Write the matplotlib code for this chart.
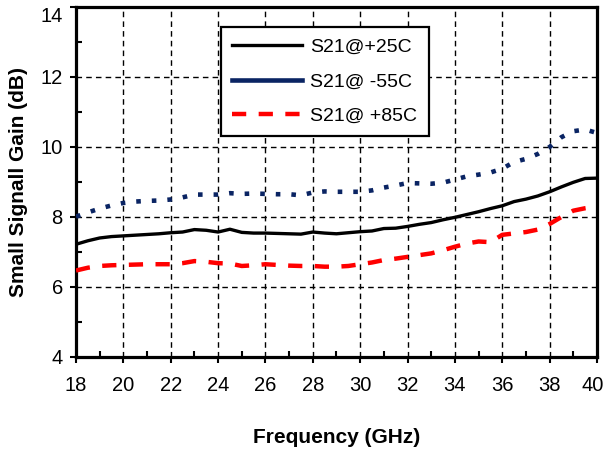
import matplotlib
matplotlib.use("Agg")
import matplotlib.pyplot as plt
import matplotlib.transforms as mtransforms
from matplotlib.ticker import MultipleLocator

plt.rcParams["font.family"] = ["Liberation Sans", "DejaVu Sans"]

# Frequency sweep (GHz)
freq = [18.0, 18.5, 19.0, 19.5, 20.0, 20.5, 21.0, 21.5, 22.0, 22.5,
        23.0, 23.5, 24.0, 24.5, 25.0, 25.5, 26.0, 26.5, 27.0, 27.5,
        28.0, 28.5, 29.0, 29.5, 30.0, 30.5, 31.0, 31.5, 32.0, 32.5,
        33.0, 33.5, 34.0, 34.5, 35.0, 35.5, 36.0, 36.5, 37.0, 37.5,
        38.0, 38.5, 39.0, 39.5, 40.0]

# Small signal gain S21 (dB) at three temperatures
s21_p25 = [7.22, 7.32, 7.40, 7.44, 7.46, 7.48, 7.50, 7.52, 7.55, 7.57,
           7.64, 7.62, 7.57, 7.65, 7.56, 7.54, 7.54, 7.53, 7.52, 7.51,
           7.57, 7.54, 7.52, 7.55, 7.58, 7.60, 7.67, 7.68, 7.73, 7.79,
           7.84, 7.92, 7.99, 8.07, 8.15, 8.24, 8.32, 8.44, 8.51, 8.60,
           8.72, 8.86, 8.99, 9.10, 9.11]

s21_m55 = [8.01, 8.13, 8.24, 8.33, 8.40, 8.44, 8.46, 8.47, 8.50, 8.56,
           8.64, 8.64, 8.64, 8.68, 8.66, 8.67, 8.66, 8.65, 8.65, 8.62,
           8.70, 8.73, 8.72, 8.72, 8.72, 8.76, 8.84, 8.90, 8.97, 8.96,
           8.95, 8.98, 9.07, 9.16, 9.21, 9.27, 9.38, 9.57, 9.66, 9.80,
           10.00, 10.28, 10.45, 10.50, 10.40]

s21_p85 = [6.47, 6.55, 6.60, 6.62, 6.63, 6.64, 6.65, 6.65, 6.65, 6.68,
           6.74, 6.72, 6.68, 6.67, 6.60, 6.62, 6.65, 6.63, 6.61, 6.60,
           6.60, 6.58, 6.58, 6.60, 6.65, 6.70, 6.77, 6.81, 6.86, 6.91,
           6.96, 7.05, 7.15, 7.24, 7.30, 7.28, 7.49, 7.53, 7.57, 7.64,
           7.80, 8.00, 8.18, 8.25, 8.30]

labels = ["S21@+25C", "S21@ -55C", "S21@ +85C"]

fig = plt.figure(figsize=(6.06, 4.5), dpi=100)
ax = fig.add_axes([0.1254, 0.2067, 0.8597, 0.7778])

ax.plot(freq, s21_p25, color="black", lw=2.4, label=labels[0], zorder=3)
ax.plot(freq, s21_m55, color="#0A2463", lw=3.3, linestyle=(0, (1, 2.4)),
        dash_capstyle="butt", label=labels[1], zorder=3)
ax.plot(freq, s21_p85, color="#FF0000", lw=3.2, linestyle=(0, (3.2, 2.8)),
        dash_capstyle="butt", label=labels[2], zorder=3)

ax.set_xlim(18, 40)
ax.set_ylim(4, 14)
ax.xaxis.set_major_locator(MultipleLocator(2))
ax.xaxis.set_minor_locator(MultipleLocator(1))
ax.yaxis.set_major_locator(MultipleLocator(2))
ax.yaxis.set_minor_locator(MultipleLocator(1))

ax.grid(True, which="major", color="black", lw=1.0, linestyle=(0, (4, 3)))
ax.set_axisbelow(True)

for side in ax.spines.values():
    side.set_linewidth(2.3)

ax.tick_params(which="major", direction="out", length=4.5, width=1.5,
               labelsize=14.5, color="black")
ax.tick_params(axis="x", which="major", pad=9)
ax.tick_params(axis="y", which="major", pad=5)
ax.tick_params(which="minor", direction="in", length=4, width=1.5)

ax.set_xlabel("Frequency (GHz)", fontsize=15, fontweight="bold", labelpad=24)
ax.set_ylabel("Small Signall Gain (dB)", fontsize=15, fontweight="bold",
              labelpad=9)

# edge labels: keep the top one under the frame, the last one inside the canvas
fig.canvas.draw()
for t in ax.get_yticklabels():
    if t.get_text() == "14":
        t.set_va("top")
for t in ax.get_xticklabels():
    if t.get_text() == "40":
        t.set_transform(t.get_transform() + mtransforms.ScaledTranslation(
            -4 / 100, 0, fig.dpi_scale_trans))

leg = ax.legend(loc="upper left", bbox_to_anchor=(0.278, 0.943),
                borderaxespad=0, fontsize=14, handlelength=3.6,
                handletextpad=0.4, labelspacing=0.85, borderpad=0.6,
                fancybox=False, framealpha=1, edgecolor="black")
leg.get_frame().set_linewidth(1.6)
leg.get_lines()[1].set_linestyle("-")

fig.savefig("out.png", dpi=100)
